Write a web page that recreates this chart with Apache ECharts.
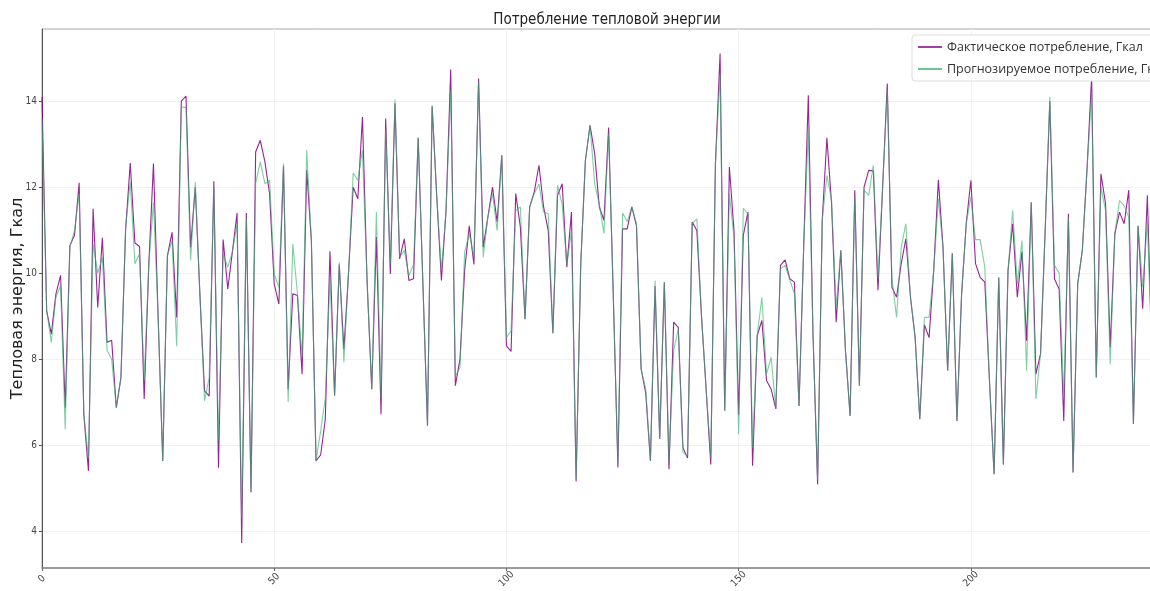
<!DOCTYPE html>
<html>
<head>
<meta charset="utf-8">
<script src="https://cdn.jsdelivr.net/npm/echarts@6/dist/echarts.min.js"></script>
<style>
  html, body { margin: 0; padding: 0; background: #fff; }
  #main { width: 1150px; height: 591px; }
</style>
</head>
<body>
<div id="main"></div>
<script>
// фактическое потребление, Гкал (по часам 0..239)
var actual = [
  14.1, 9.13, 8.58, 9.52, 9.95, 6.87, 10.64, 10.88, 12.1, 6.72,
  5.4, 11.5, 9.2, 10.82, 8.39, 8.44, 6.87, 7.57, 11.0, 12.56,
  10.7, 10.62, 7.07, 10.2, 12.55, 9.0, 5.63, 10.4, 10.95, 8.97,
  14.0, 14.12, 10.6, 12.0, 9.5, 7.26, 7.14, 12.14, 5.47, 10.78,
  9.63, 10.5, 11.4, 3.72, 11.4, 4.9, 12.82, 13.09, 12.59, 11.85,
  9.75, 9.28, 12.5, 7.3, 9.52, 9.48, 7.65, 12.4, 10.76, 5.63,
  5.77, 6.6, 10.51, 7.15, 10.2, 8.23, 10.0, 12.0, 11.73, 13.63,
  9.8, 7.3, 10.84, 6.72, 13.6, 9.98, 13.95, 10.33, 10.8, 9.83,
  9.87, 13.15, 9.8, 6.45, 13.88, 11.77, 9.83, 11.46, 14.74, 7.38,
  8.0, 10.06, 11.1, 10.2, 14.53, 10.6, 11.3, 12.0, 11.19, 12.74,
  8.31, 8.18, 11.85, 11.07, 8.93, 11.54, 11.89, 12.51, 11.54, 10.99,
  8.6, 11.81, 12.08, 10.14, 11.42, 5.15, 10.2, 12.62, 13.44, 12.78,
  11.54, 11.23, 13.39, 9.5, 5.48, 11.03, 11.03, 11.54, 11.1, 7.77,
  7.2, 5.63, 9.7, 6.14, 9.79, 5.44, 8.86, 8.74, 5.94, 5.7,
  11.19, 10.99, 9.0, 7.3, 5.55, 12.55, 15.11, 6.8, 12.47, 10.99,
  6.7, 10.88, 11.42, 5.52, 8.55, 8.9, 7.5, 7.3, 6.84, 10.18,
  10.31, 9.87, 9.79, 6.91, 10.6, 14.14, 8.6, 5.09, 11.23, 13.15,
  11.62, 8.86, 10.53, 8.2, 6.68, 11.93, 7.38, 12.0, 12.39, 12.38,
  9.6, 12.0, 14.41, 9.67, 9.44, 10.22, 10.8, 9.44, 8.5, 6.6,
  8.8, 8.5, 10.06, 12.17, 10.6, 7.73, 10.46, 6.56, 9.5, 11.15,
  12.16, 10.22, 9.9, 9.79, 7.5, 5.32, 9.9, 5.55, 10.06, 11.15,
  9.44, 10.5, 8.43, 11.65, 7.65, 8.12, 11.0, 14.0, 9.87, 9.63,
  6.56, 11.38, 5.36, 9.75, 10.53, 12.4, 14.57, 7.57, 12.31, 11.62,
  8.27, 10.92, 11.42, 11.15, 11.93, 6.49, 11.1, 9.17, 11.81, 8.0
];
// прогноз, Гкал
var forecast = [
  13.6, 9.13, 8.39, 9.44, 9.7, 6.37, 10.6, 11.0, 11.85, 6.72,
  5.7, 10.68, 10.0, 10.37, 8.2, 8.0, 6.87, 7.57, 11.07, 12.12,
  10.22, 10.45, 7.5, 10.2, 11.65, 9.0, 5.63, 10.4, 10.76, 8.3,
  13.87, 13.85, 10.3, 12.12, 9.5, 7.03, 7.57, 12.0, 6.1, 10.45,
  10.14, 10.5, 11.15, 4.3, 11.3, 4.9, 12.08, 12.59, 12.08, 12.16,
  9.98, 9.67, 12.55, 7.0, 10.68, 9.52, 8.04, 12.86, 10.76, 5.63,
  6.33, 7.1, 9.9, 7.15, 10.25, 7.93, 10.0, 12.33, 12.16, 12.86,
  9.8, 7.3, 11.42, 7.1, 13.32, 10.2, 14.04, 10.37, 10.53, 9.94,
  10.2, 13.15, 9.8, 6.45, 13.9, 11.77, 10.06, 11.46, 14.26, 7.6,
  7.8, 10.49, 10.92, 10.37, 14.45, 10.37, 11.3, 11.85, 10.99, 12.74,
  8.5, 8.66, 11.46, 11.54, 8.93, 11.54, 11.85, 12.07, 11.42, 11.38,
  8.6, 12.04, 11.6, 10.2, 10.99, 5.2, 10.22, 12.62, 13.44, 12.08,
  11.6, 10.92, 13.25, 9.5, 5.6, 11.4, 11.2, 11.54, 11.15, 7.77,
  7.3, 5.63, 9.83, 6.14, 9.79, 5.63, 8.2, 8.7, 5.83, 5.75,
  11.15, 11.26, 9.0, 7.3, 5.7, 12.55, 14.64, 6.8, 11.85, 10.8,
  6.25, 11.51, 11.38, 5.94, 8.55, 9.44, 7.65, 8.04, 6.84, 10.1,
  10.18, 9.85, 9.52, 6.91, 10.6, 13.32, 8.6, 5.2, 11.23, 12.27,
  11.7, 9.2, 10.53, 8.2, 6.68, 11.77, 7.38, 11.93, 11.81, 12.51,
  9.87, 12.0, 14.26, 9.9, 8.97, 10.6, 11.15, 9.44, 8.5, 6.6,
  8.97, 8.97, 10.06, 11.73, 10.6, 7.73, 10.46, 6.56, 9.5, 11.15,
  11.77, 10.78, 10.78, 10.14, 7.5, 5.32, 9.9, 5.55, 10.06, 11.46,
  9.75, 10.76, 7.73, 11.65, 7.07, 8.12, 11.0, 14.1, 10.18, 10.0,
  7.1, 11.3, 5.36, 9.75, 10.53, 12.4, 14.22, 7.57, 12.0, 11.46,
  7.88, 10.92, 11.69, 11.57, 11.3, 6.49, 11.1, 9.67, 11.2, 8.0
];
var yTicks = [4, 6, 8, 10, 12, 14];
var seriesNames = ['Фактическое потребление, Гкал', 'Прогнозируемое потребление, Гкал'];

function toPairs(arr) {
  var out = [];
  for (var i = 0; i < arr.length; i++) {
    out.push([i, arr[i]]);
  }
  return out;
}

var myChart = echarts.init(document.getElementById('main'));
var option = {
  animation: false,
  backgroundColor: '#fff',
  title: {
    text: 'Потребление тепловой энергии',
    left: 602,
    top: 8,
    textAlign: 'center',
    textStyle: {
      fontFamily: 'DejaVu Sans Condensed',
      fontSize: 15,
      fontWeight: 'normal',
      color: '#222'
    }
  },
  legend: {
    orient: 'vertical',
    left: 912,
    top: 35,
    data: seriesNames,
    icon: 'rect',
    itemWidth: 24,
    itemHeight: 1.5,
    itemGap: 8,
    padding: [5, 8, 5, 6],
    backgroundColor: '#fff',
    borderColor: '#ddd',
    borderWidth: 1,
    borderRadius: 3,
    textStyle: {
      fontFamily: 'Open Sans',
      fontSize: 12.5,
      color: '#333',
      lineHeight: 14
    }
  },
  grid: {
    left: 42,
    right: -2,
    top: 29,
    bottom: 23,
    outerBoundsMode: 'none',
    show: true,
    borderColor: '#aaa',
    borderWidth: 1
  },
  xAxis: {
    type: 'value',
    min: 0,
    max: 239,
    interval: 50,
    axisLine: { show: true, lineStyle: { color: '#888', width: 1.5 } },
    axisTick: { show: true, length: 3, lineStyle: { color: '#666' } },
    axisLabel: {
      rotate: 45,
      showMaxLabel: false,
      align: 'center',
      verticalAlign: 'middle',
      margin: 11,
      fontFamily: 'DejaVu Sans Condensed',
      fontSize: 10,
      color: '#444'
    },
    splitLine: { show: true, lineStyle: { color: '#f1f1f1' } }
  },
  yAxis: {
    type: 'value',
    min: 3.14,
    max: 15.68,
    name: 'Тепловая энергия, Гкал',
    nameLocation: 'middle',
    nameGap: 16,
    nameMoveOverlap: false,
    nameTextStyle: {
      fontFamily: 'DejaVu Sans',
      fontSize: 16,
      color: '#222'
    },
    axisLine: { show: true, lineStyle: { color: '#555' } },
    axisTick: { show: true, length: 3, customValues: yTicks, lineStyle: { color: '#555' } },
    axisLabel: {
      customValues: yTicks,
      margin: 5,
      fontFamily: 'DejaVu Sans Condensed',
      fontSize: 10,
      color: '#444'
    },
    splitLine: { show: true, lineStyle: { color: '#f1f1f1' } }
  },
  series: [
    {
      name: seriesNames[0],
      type: 'line',
      data: toPairs(actual),
      symbol: 'none',
      itemStyle: { color: '#800080' },
      lineStyle: { color: '#800080', width: 1.1, opacity: 0.85 }
    },
    {
      name: seriesNames[1],
      type: 'line',
      data: toPairs(forecast),
      symbol: 'none',
      itemStyle: { color: '#3cb371' },
      lineStyle: { color: '#3cb371', width: 1.1, opacity: 0.65 }
    }
  ]
};
myChart.setOption(option);
</script>
</body>
</html>
